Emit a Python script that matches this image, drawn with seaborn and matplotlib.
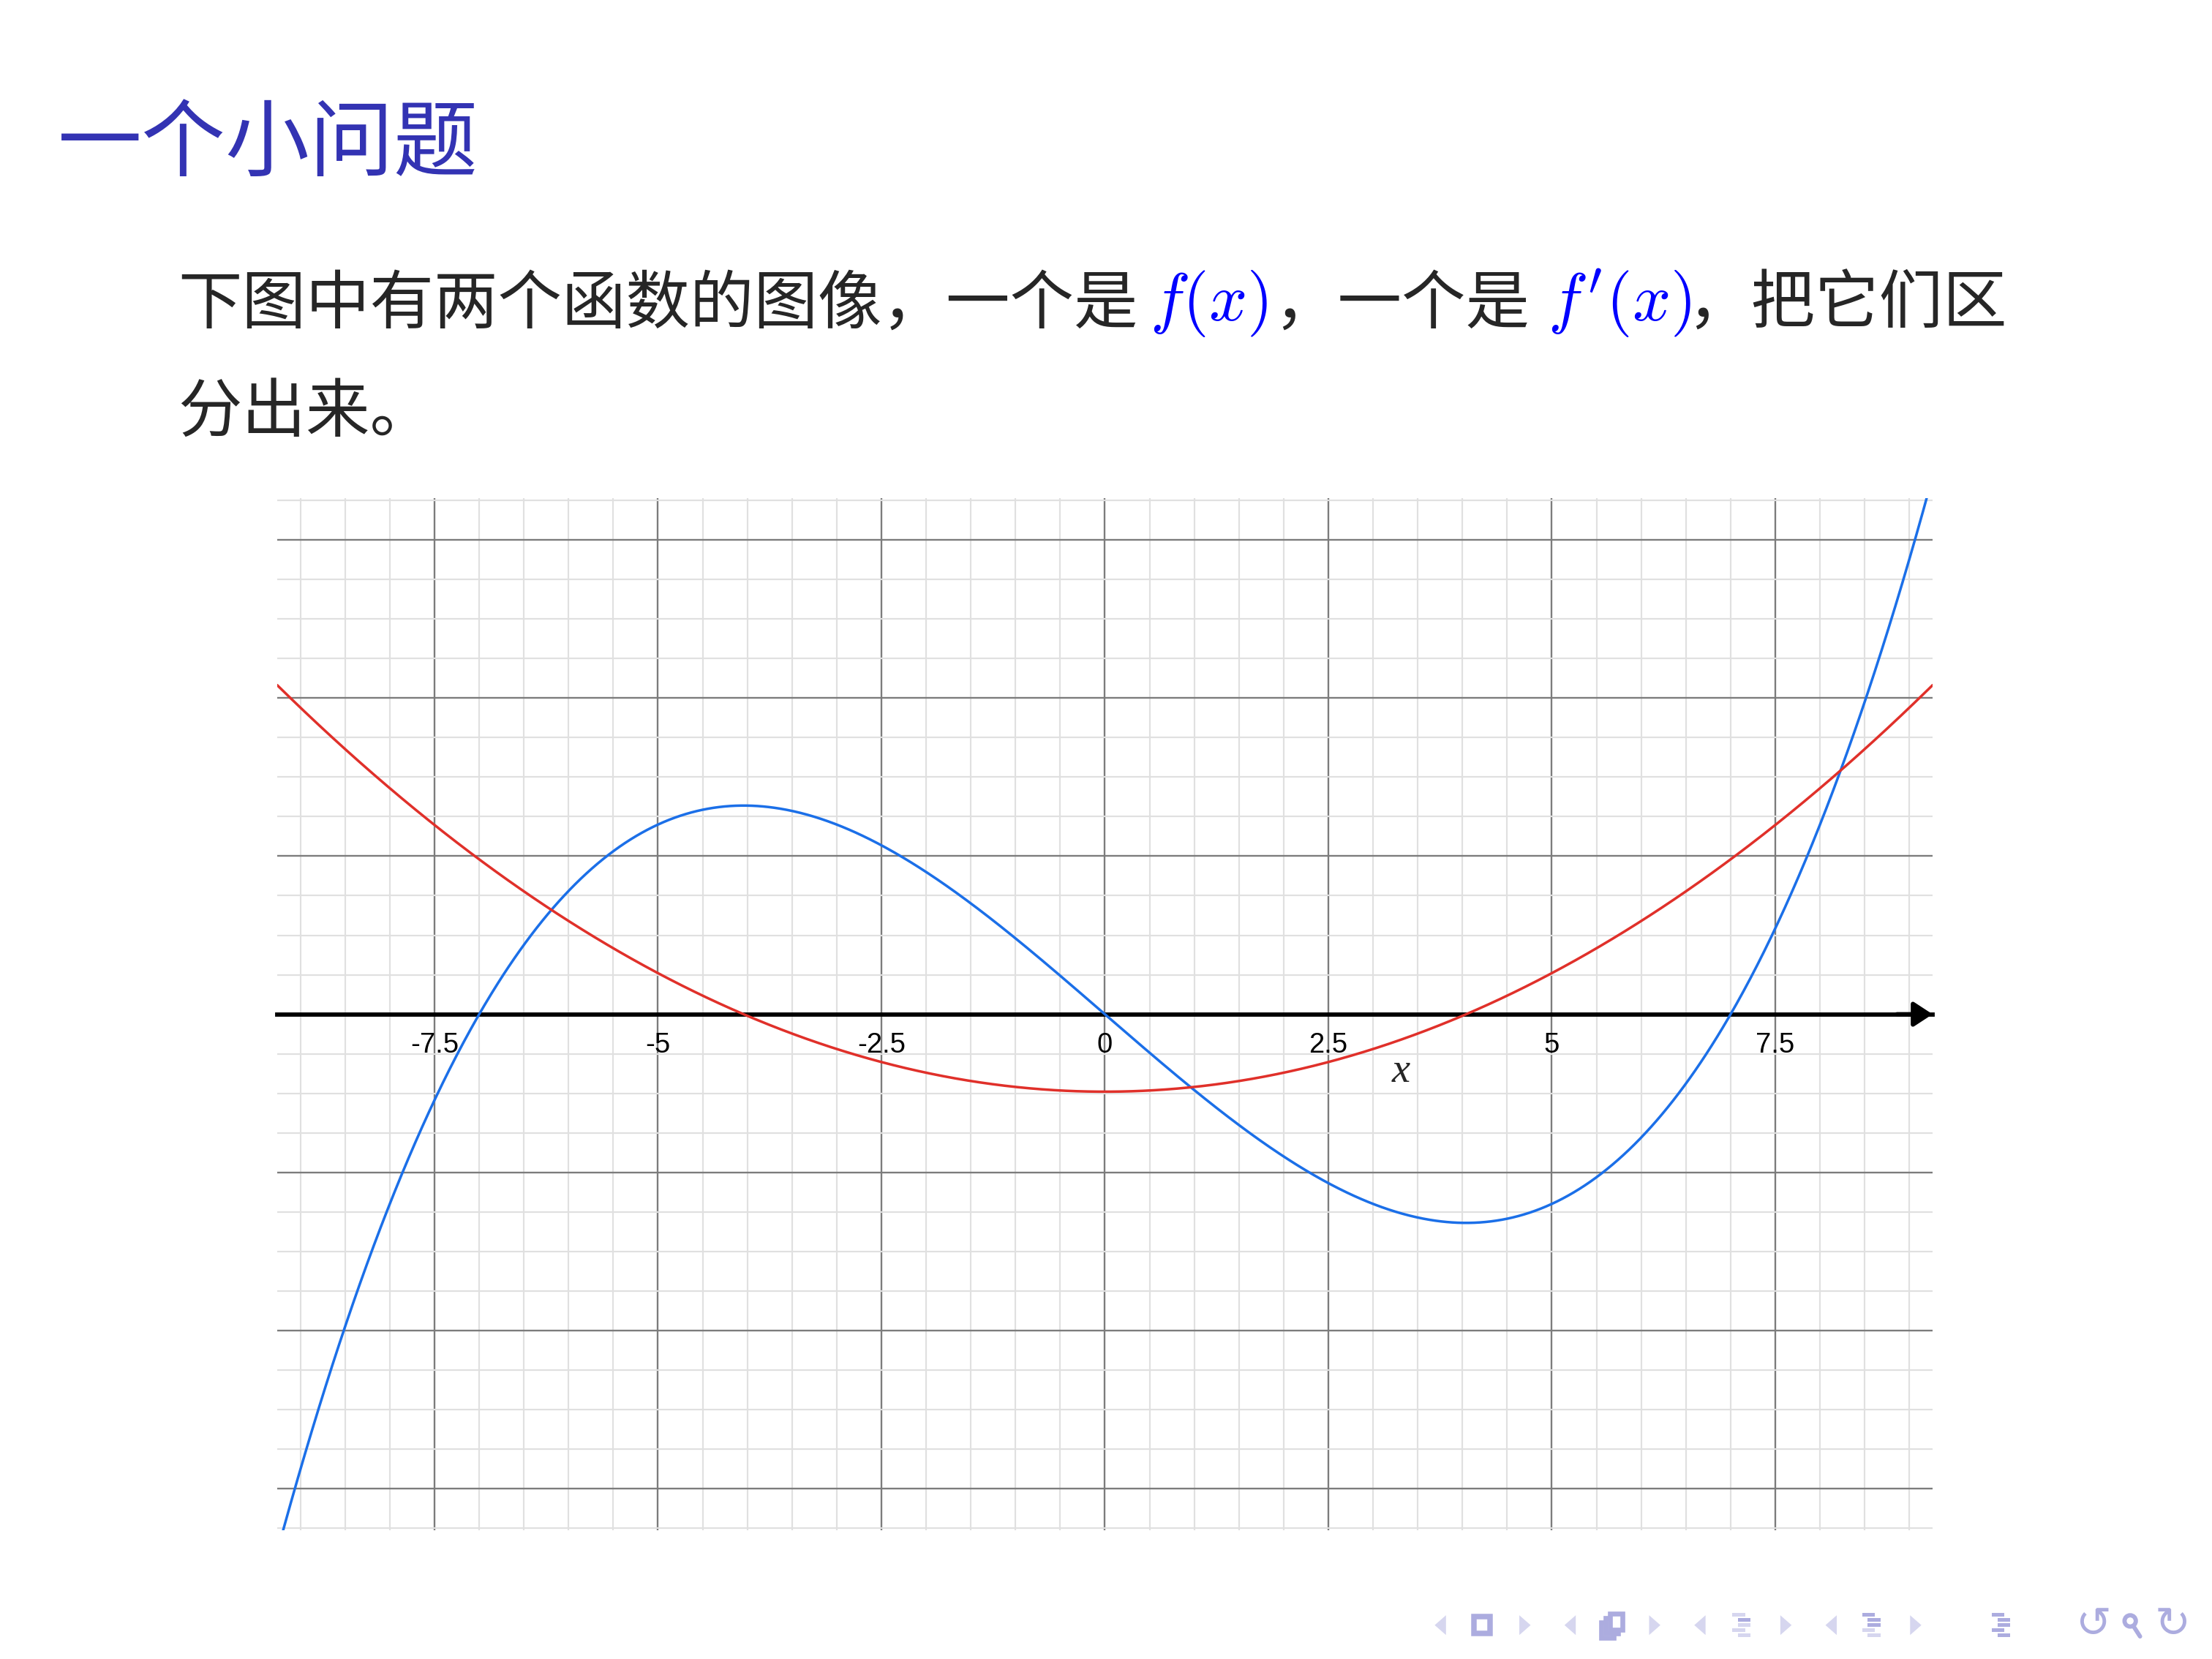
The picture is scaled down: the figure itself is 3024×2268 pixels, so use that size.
import numpy as np
import pandas as pd
import matplotlib
matplotlib.use('Agg')
import matplotlib.pyplot as plt
import matplotlib.ticker as mticker
from matplotlib.patches import Polygon, Rectangle, Circle
import seaborn as sns

sns.set_style('white')
plt.rcParams['font.family'] = ['Noto Sans CJK SC', 'DejaVu Sans']
plt.rcParams['mathtext.fontset'] = 'cm'

# curves, as polynomial coefficients (highest power first)
f_coeffs = [0.02, 0.0, -0.98, 0.0]     # f(x): zeros at 0 and about +-7
df_coeffs = [0.06, 0.0, -0.98]         # f'(x): zeros at about +-4.04, minimum near -1
x_range = [-9.26, 9.26]
y_range = [-6.53, 6.53]
x_ticks = [-7.5, -5, -2.5, 0, 2.5, 5, 7.5]
x_tick_labels = ['-7.5', '-5', '-2.5', '0', '2.5', '5', '7.5']

blue = '#1b6fe8'
red = '#e0302a'
nav_light = '#d6d6ef'
nav_dark = '#acacdf'

xs = np.linspace(x_range[0], x_range[1], 1200)
curves = pd.DataFrame({
    'x': np.concatenate([xs, xs]),
    'y': np.concatenate([np.polyval(f_coeffs, xs), np.polyval(df_coeffs, xs)]),
    'curve': ['f'] * len(xs) + ["f'"] * len(xs),
})

fig = plt.figure(figsize=(5.04, 3.78), dpi=600)

ax = fig.add_axes([0.1253, 0.0776, 0.7484, 0.6221])
ax.set_xlim(x_range)
ax.set_ylim(y_range)

ax.xaxis.set_major_locator(mticker.FixedLocator(x_ticks))
ax.xaxis.set_major_formatter(mticker.FixedFormatter(x_tick_labels))
ax.xaxis.set_minor_locator(mticker.MultipleLocator(0.5))
ax.yaxis.set_major_locator(mticker.MultipleLocator(2))
ax.yaxis.set_minor_locator(mticker.MultipleLocator(0.5))
ax.set_axisbelow(True)
ax.grid(which='major', color='#7c7c7c', lw=0.28)
ax.grid(which='minor', color='#e0e0e0', lw=0.26)

sns.lineplot(data=curves, x='x', y='y', hue='curve', palette={'f': blue, "f'": red},
             estimator=None, sort=False, lw=0.42, legend=False, ax=ax, zorder=4)
ax.set_xlabel('')
ax.set_ylabel('')

for side in ['top', 'right', 'left']:
    ax.spines[side].set_visible(False)
ax.spines['bottom'].set_position(('data', 0))
ax.spines['bottom'].set_linewidth(0.7)
ax.spines['bottom'].set_color('black')
ax.spines['bottom'].set_zorder(3)

ax.tick_params(axis='x', which='major', direction='inout', length=2.8, width=0.55,
               pad=1.5, labelsize=4.6, colors='black')
ax.tick_params(axis='x', which='minor', direction='inout', length=1.9, width=0.5)
ax.tick_params(axis='y', which='both', left=False, labelleft=False)
for lab in ax.get_xticklabels():
    lab.set_family(['Liberation Sans', 'DejaVu Sans'])

ax.annotate('', xy=(x_range[1], 0), xytext=(x_range[1] - 0.4, 0),
            arrowprops=dict(arrowstyle='-|>,head_length=0.26,head_width=0.17',
                            color='black', lw=0.7, shrinkA=0, shrinkB=0),
            annotation_clip=False, zorder=3)
ax.text(3.31, -0.73, 'x', style='italic', family=['Liberation Serif', 'DejaVu Serif'],
        fontsize=6.8, ha='center', va='center')

# slide layer, coordinates in 1568x1176 reference pixels
ov = fig.add_axes([0, 0, 1, 1], zorder=5)
ov.set_xlim(0, 1568)
ov.set_ylim(1176, 0)
ov.axis('off')
ov.patch.set_visible(False)

ov.text(41, 103, '一个小问题', color='#3333b3', fontsize=13.8, va='center', ha='left')

body = 10.5
ov.text(126, 216, '下图中有两个函数的图像，一个是', fontsize=body, va='center')
ov.text(815, 215, r'$f(x)$', fontsize=body + 0.5, color='#0000ff', va='center')
ov.text(903, 216, '，一个是', fontsize=body, va='center')
ov.text(1097, 215, r"$f'(x)$", fontsize=body + 0.5, color='#0000ff', va='center')
ov.text(1196, 216, '，把它们区', fontsize=body, va='center')
ov.text(126, 293, '分出来。', fontsize=body, va='center')


# beamer navigation symbols
def tri(cx, left):
    d = -1 if left else 1
    ov.add_patch(Polygon([(cx - 4 * d, 1145), (cx + 4 * d, 1152), (cx - 4 * d, 1159)],
                         closed=True, color=nav_light, lw=0))


def list_icon(cx, dark_rows):
    for i, dx in enumerate([-3, 1, 1, -3, 1]):
        col = nav_dark if i in dark_rows else nav_light
        ov.add_patch(Rectangle((cx - 5 + dx, 1143.5 + i * 3.6), 9, 2.4, color=col, lw=0))


tri(1021, True)
ov.add_patch(Rectangle((1045, 1146), 11, 12, fill=False, ec=nav_dark, lw=0.9))
tri(1081, False)

tri(1113, True)
for k in range(3):
    ov.add_patch(Rectangle((1135 + 3 * k, 1150 - 3 * k), 9, 11, fc='white', ec=nav_dark, lw=0.8))
tri(1173, False)

tri(1205, True)
list_icon(1236, [1])
tri(1266, False)

tri(1298, True)
list_icon(1328, [0, 1, 2])
tri(1358, False)

list_icon(1420, [0, 1, 2, 3, 4])

ov.text(1484, 1152, '↺', fontsize=7, color=nav_dark, ha='center', va='center', family='DejaVu Sans')
ov.add_patch(Circle((1510, 1149), 4, fill=False, ec=nav_dark, lw=0.7))
ov.plot([1512.5, 1517], [1153, 1160], color=nav_dark, lw=0.7)
ov.text(1540, 1152, '↻', fontsize=7, color=nav_dark, ha='center', va='center', family='DejaVu Sans')

fig.savefig('out.png', dpi=600)
